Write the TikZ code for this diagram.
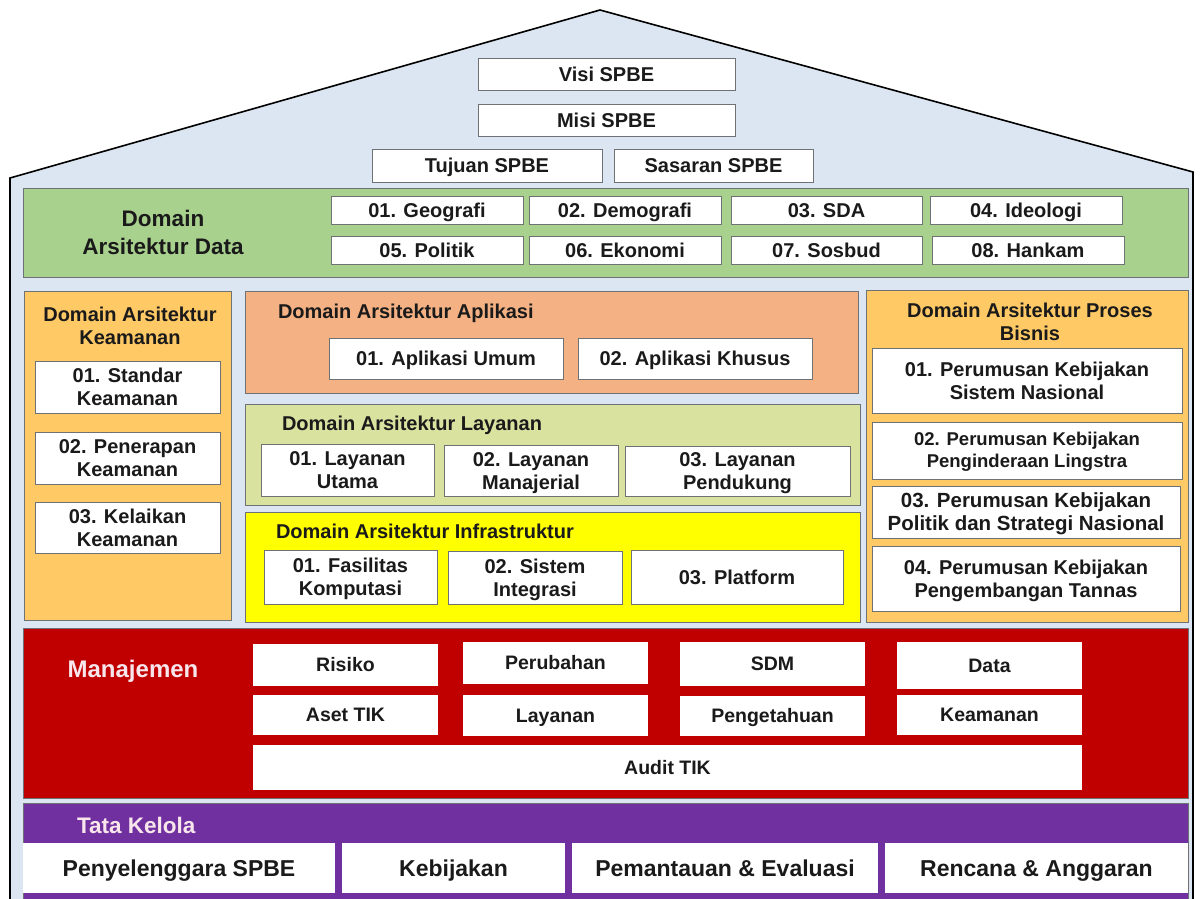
\documentclass[tikz,border=0pt]{standalone}
\usepackage{fontspec}
\setmainfont{Liberation Sans}
\definecolor{housefill}{HTML}{DCE6F2}
\definecolor{datagreen}{HTML}{A9D18E}
\definecolor{panelorange}{HTML}{FFC966}
\definecolor{aplfill}{HTML}{F4B183}
\definecolor{layfill}{HTML}{DAE2A0}
\definecolor{infyellow}{HTML}{FFFF00}
\definecolor{mgmtred}{HTML}{C00000}
\definecolor{tkpurple}{HTML}{7030A0}
\definecolor{edge}{HTML}{6F7275}
\definecolor{txt}{HTML}{1A1A1A}
\definecolor{lbl}{HTML}{F8E6EC}
\newcommand\topstrut{\rule{0pt}{0.95em}}
\newcommand\botstrut{\rule[-0.25em]{0pt}{0.25em}}
\newcommand\rbox[7]{\node[#1, minimum width={(#5-#3)*1pt}, minimum height={(#6-#4)*1pt}] (#2) at ({(#3+#5)/2},{(#4+#6)/2}) {\topstrut#7\botstrut};}
\begin{document}
\begin{tikzpicture}[x=1pt,y=-1pt,
  every node/.style={inner sep=0pt, outer sep=0pt, align=center, text=txt},
  wbox/.style={draw=edge, line width=0.8pt, fill=white, font=\fontsize{20}{23}\selectfont\bfseries},
  panel/.style={draw=edge, line width=1pt},
  title/.style={font=\fontsize{20}{23}\selectfont\bfseries},
  mbox/.style={fill=white, font=\fontsize{19.5}{22}\selectfont\bfseries},
  tbox/.style={fill=white, font=\fontsize{23}{26}\selectfont\bfseries}]
\useasboundingbox (0,0) rectangle (1200,898);
% house
\draw[line width=1.6pt, fill=housefill] (10,900) -- (10,178) -- (600,10) -- (1193,172) -- (1193,900);
% roof boxes
\rbox{wbox}{visi}{478}{58}{735}{90}{Visi SPBE}
\rbox{wbox}{misi}{478}{104}{735}{136}{Misi SPBE}
\rbox{wbox}{tujuan}{372}{149}{602}{182}{Tujuan SPBE}
\rbox{wbox}{sasaran}{614}{149}{813}{182}{Sasaran SPBE}
% data domain
\rbox{panel, fill=datagreen}{dpanel}{23}{188}{1188}{277}{}
\node[font=\fontsize{22.5}{28}\selectfont\bfseries] (dtitle) at (163,232) {Domain\\Arsitektur Data};
\rbox{wbox}{d1}{331}{196}{523}{224}{01. Geografi}
\rbox{wbox}{d2}{529}{196}{721}{224}{02. Demografi}
\rbox{wbox}{d3}{731}{196}{922}{224}{03. SDA}
\rbox{wbox}{d4}{930}{196}{1122}{224}{04. Ideologi}
\rbox{wbox}{d5}{331}{236}{523}{264}{05. Politik}
\rbox{wbox}{d6}{529}{236}{721}{264}{06. Ekonomi}
\rbox{wbox}{d7}{731}{236}{922}{264}{07. Sosbud}
\rbox{wbox}{d8}{932}{236}{1124}{264}{08. Hankam}
% keamanan
\rbox{panel, fill=panelorange}{kpanel}{24}{291}{231}{620}{}
\node[title] (ktitle) at (130,326) {Domain Arsitektur\\Keamanan};
\rbox{wbox}{k1}{35}{361}{220}{413}{01. Standar\\Keamanan}
\rbox{wbox}{k2}{35}{432}{220}{484}{02. Penerapan\\Keamanan}
\rbox{wbox}{k3}{35}{502}{220}{553}{03. Kelaikan\\Keamanan}
% aplikasi
\rbox{panel, fill=aplfill}{apanel}{245}{291}{858}{393}{}
\node[title, anchor=west] (atitle) at (278,313) {Domain Arsitektur Aplikasi};
\rbox{wbox}{a1}{329}{338}{563}{379}{01. Aplikasi Umum}
\rbox{wbox}{a2}{578}{338}{812}{379}{02. Aplikasi Khusus}
% layanan
\rbox{panel, fill=layfill}{lpanel}{245}{404}{860}{505}{}
\node[title, anchor=west] (ltitle) at (282,425) {Domain Arsitektur Layanan};
\rbox{wbox}{l1}{261}{444}{434}{496}{01. Layanan\\Utama}
\rbox{wbox}{l2}{444}{445}{618}{496}{02. Layanan\\Manajerial}
\rbox{wbox}{l3}{625}{446}{850}{496}{03. Layanan\\Pendukung}
% infrastruktur
\rbox{panel, fill=infyellow}{ipanel}{245}{512}{860}{622}{}
\node[title, anchor=west] (ititle) at (276,531) {Domain Arsitektur Infrastruktur};
\rbox{wbox}{i1}{264}{550}{437}{604}{01. Fasilitas\\Komputasi}
\rbox{wbox}{i2}{448}{551}{622}{604}{02. Sistem\\Integrasi}
\rbox{wbox}{i3}{631}{550}{843}{604}{03. Platform}
% proses bisnis
\rbox{panel, fill=panelorange}{ppanel}{866}{290}{1188}{622}{}
\node[title] (ptitle) at (1030,322) {Domain Arsitektur Proses\\Bisnis};
\rbox{wbox}{p1}{872}{348}{1182}{413}{01. Perumusan Kebijakan\\Sistem Nasional}
\rbox{wbox, font=\fontsize{18.5}{22}\selectfont\bfseries}{p2}{872}{422}{1182}{479}{02. Perumusan Kebijakan\\Penginderaan Lingstra}
\rbox{wbox, font=\fontsize{20.5}{22.5}\selectfont\bfseries}{p3}{872}{486}{1180}{538}{03. Perumusan Kebijakan\\Politik dan Strategi Nasional}
\rbox{wbox}{p4}{872}{546}{1180}{611}{04. Perumusan Kebijakan\\Pengembangan Tannas}
% manajemen
\rbox{panel, fill=mgmtred}{mpanel}{23}{628}{1188}{798}{}
\node[font=\fontsize{24}{26}\selectfont\bfseries, text=lbl] (mtitle) at (133,671) {Manajemen};
\rbox{mbox}{m1}{253}{644}{438}{686}{Risiko}
\rbox{mbox}{m2}{463}{642}{648}{684}{Perubahan}
\rbox{mbox}{m3}{680}{642}{865}{686}{SDM}
\rbox{mbox}{m4}{897}{642}{1082}{689}{Data}
\rbox{mbox}{m5}{253}{695}{438}{735}{Aset TIK}
\rbox{mbox}{m6}{463}{695}{648}{736}{Layanan}
\rbox{mbox}{m7}{680}{696}{865}{736}{Pengetahuan}
\rbox{mbox}{m8}{897}{695}{1082}{735}{Keamanan}
\rbox{mbox}{audit}{253}{745}{1082}{790}{Audit TIK}
% tata kelola
\rbox{panel, fill=tkpurple}{tpanel}{23}{803}{1188}{900}{}
\node[font=\fontsize{22.5}{26}\selectfont\bfseries, text=lbl, anchor=west] (ttitle) at (77,825) {Tata Kelola};
\rbox{tbox}{t1}{23}{843}{335}{893}{Penyelenggara SPBE}
\rbox{tbox}{t2}{342}{843}{565}{893}{Kebijakan}
\rbox{tbox}{t3}{572}{843}{878}{893}{Pemantauan \& Evaluasi}
\rbox{tbox}{t4}{885}{843}{1188}{893}{Rencana \& Anggaran}
\end{tikzpicture}
\end{document}
